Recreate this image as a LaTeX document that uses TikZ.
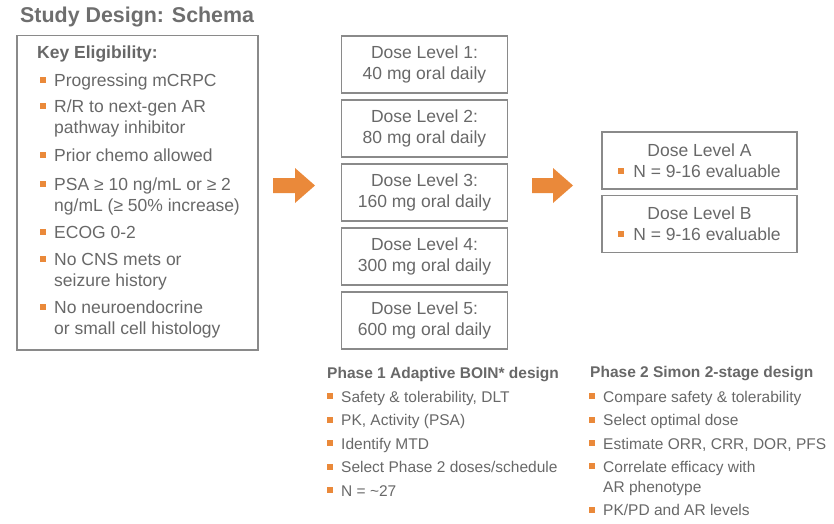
\documentclass[tikz,border=0pt]{standalone}
\usepackage{fontspec}
\setmainfont{Liberation Sans}
\definecolor{txt}{RGB}{104,104,104}
\definecolor{ttl}{RGB}{110,110,110}
\definecolor{frm}{RGB}{138,138,138}
\definecolor{org}{RGB}{234,137,58}
\newcommand{\inbul}{\textcolor{org}{\rule[3.3pt]{6pt}{6pt}}\hspace{9pt}}
\tikzset{
  big/.style={font=\fontsize{17.5}{21}\selectfont, text=txt, inner sep=0pt, anchor=base west},
  bigb/.style={big, font=\fontsize{17.5}{21}\selectfont\bfseries},
  sml/.style={font=\fontsize{15.5}{19}\selectfont, text=txt, inner sep=0pt, anchor=base west},
  smlb/.style={sml, font=\fontsize{15.5}{19}\selectfont\bfseries},
  bul/.style={fill=org, minimum size=6pt, inner sep=0pt},
  frame/.style={draw=frm, line width=1.8pt, inner sep=0pt},
  dosebox/.style={frame, minimum width=166pt, minimum height=57pt, align=center,
    font=\fontsize{17.5}{21}\selectfont, text=txt},
  armbox/.style={frame, minimum width=195pt, minimum height=57pt, align=center,
    font=\fontsize{17.5}{21}\selectfont, text=txt},
  fatarrow/.style={fill=org}
}
\begin{document}
\begin{tikzpicture}[x=1pt,y=-1pt]
\useasboundingbox (0,0) rectangle (834,523);
% title
\node[anchor=base west, inner sep=0pt, text=ttl, font=\fontsize{21.4}{25}\selectfont\bfseries] (title) at (20,22) {Study Design: Schema};
% eligibility box
\node[frame, minimum width=241pt, minimum height=314.5pt] (elig) at (137.5,192.75) {};
\node[bigb] (kh) at (37,58) {Key Eligibility:};
\node[bul] (b1) at (43,79.5) {};
\node[big] (e1) at (54,86) {Progressing mCRPC};
\node[bul] (b2) at (43,105.5) {};
\node[big] (e2a) at (54,112) {R/R to next-gen AR};
\node[big] (e2b) at (54,133) {pathway inhibitor};
\node[bul] (b3) at (43,154.5) {};
\node[big] (e3) at (54,161) {Prior chemo allowed};
\node[bul] (b4) at (43,183.5) {};
\node[big] (e4a) at (54,190) {PSA ≥ 10 ng/mL or ≥ 2};
\node[big] (e4b) at (54,211) {ng/mL (≥ 50\% increase)};
\node[bul] (b5) at (43,231.5) {};
\node[big] (e5) at (54,238) {ECOG 0-2};
\node[bul] (b6) at (43,258.5) {};
\node[big] (e6a) at (54,265) {No CNS mets or};
\node[big] (e6b) at (54,286) {seizure history};
\node[bul] (b7) at (43,306.5) {};
\node[big] (e7a) at (54,313) {No neuroendocrine};
\node[big] (e7b) at (54,334) {or small cell histology};
% arrows
\fill[fatarrow] (273,178) -- (295,178) -- (295,168) -- (315,185.5) -- (295,203) -- (295,193) -- (273,193) -- cycle;
\fill[fatarrow] (532,178) -- (553,178) -- (553,168) -- (573,185.5) -- (553,203) -- (553,193) -- (532,193) -- cycle;
% dose levels
\node[dosebox] (d1) at (424.5,64.5) {Dose Level 1:\\40 mg oral daily};
\node[dosebox] (d2) at (424.5,128.5) {Dose Level 2:\\80 mg oral daily};
\node[dosebox] (d3) at (424.5,192.5) {Dose Level 3:\\160 mg oral daily};
\node[dosebox] (d4) at (424.5,256.5) {Dose Level 4:\\300 mg oral daily};
\node[dosebox] (d5) at (424.5,320.5) {Dose Level 5:\\600 mg oral daily};
% phase 2 arms
\node[armbox] (da) at (699.5,160.5) {Dose Level A\\\inbul N = 9-16 evaluable};
\node[armbox] (db) at (699.5,224) {Dose Level B\\\inbul N = 9-16 evaluable};
% phase 1 text
\node[smlb] (p1h) at (327,378) {Phase 1 Adaptive BOIN* design};
\node[bul] (p1b1) at (329.5,396) {};
\node[sml] (p1t1) at (341,402) {Safety \& tolerability, DLT};
\node[bul] (p1b2) at (329.5,419.5) {};
\node[sml] (p1t2) at (341,425.5) {PK, Activity (PSA)};
\node[bul] (p1b3) at (329.5,443) {};
\node[sml] (p1t3) at (341,449) {Identify MTD};
\node[bul] (p1b4) at (329.5,466.5) {};
\node[sml] (p1t4) at (341,472.5) {Select Phase 2 doses/schedule};
\node[bul] (p1b5) at (329.5,490) {};
\node[sml] (p1t5) at (341,496) {N = \textasciitilde 27};
% phase 2 text
\node[smlb] (p2h) at (590,377) {Phase 2 Simon 2-stage design};
\node[bul] (p2b1) at (592,396) {};
\node[sml] (p2t1) at (603,402) {Compare safety \& tolerability};
\node[bul] (p2b2) at (592,419.5) {};
\node[sml] (p2t2) at (603,425.5) {Select optimal dose};
\node[bul] (p2b3) at (592,443) {};
\node[sml] (p2t3) at (603,449) {Estimate ORR, CRR, DOR, PFS};
\node[bul] (p2b4) at (592,466) {};
\node[sml] (p2t4a) at (603,472) {Correlate efficacy with};
\node[sml] (p2t4b) at (603,492) {AR phenotype};
\node[bul] (p2b5) at (592,509.5) {};
\node[sml] (p2t5) at (603,515.5) {PK/PD and AR levels};
\end{tikzpicture}
\end{document}
